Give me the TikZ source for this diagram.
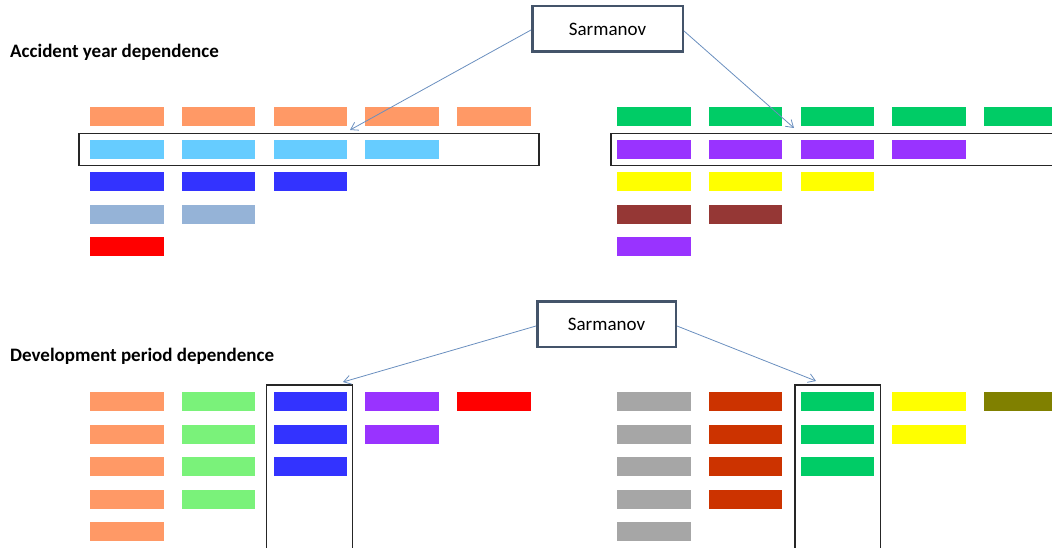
\documentclass[tikz,border=0pt]{standalone}
\usepackage{fontspec}
\setmainfont{Carlito}
\usetikzlibrary{arrows.meta}

\definecolor{peach}{HTML}{FF9966}
\definecolor{sky}{HTML}{66CCFF}
\definecolor{royal}{HTML}{3333FF}
\definecolor{steel}{HTML}{95B3D7}
\definecolor{pure}{HTML}{FF0000}
\definecolor{jade}{HTML}{00CC66}
\definecolor{violet}{HTML}{9933FF}
\definecolor{lemon}{HTML}{FFFF00}
\definecolor{brick}{HTML}{953735}
\definecolor{mint}{HTML}{7AF27A}
\definecolor{ash}{HTML}{A6A6A6}
\definecolor{rust}{HTML}{CC3300}
\definecolor{olive}{HTML}{808000}
\definecolor{link}{HTML}{6A8FBF}
\definecolor{slate}{HTML}{44546A}

\begin{document}
\begin{tikzpicture}[x=1pt,y=-1pt,
  bar/.style={anchor=north west,inner sep=0pt,minimum width=73.5pt,minimum height=19pt},
  sarm/.style={draw=slate,line width=2.5pt,fill=white,minimum height=45.5pt,font=\fontsize{19}{22}\selectfont},
  frame/.style={draw=black!85,line width=1.2pt},
  link/.style={draw=link,line width=0.8pt,-{Straight Barb[length=7pt,width=9pt]}}]
\useasboundingbox (0,0) rectangle (1052,548);
\clip (0,0) rectangle (1052,548);

% titles
\node[anchor=base west,inner sep=0pt,font=\fontsize{19}{22}\selectfont\bfseries] (tacc) at (10,58) {Accident year dependence};
\node[anchor=base west,inner sep=0pt,font=\fontsize{19}{22}\selectfont\bfseries] (tdev) at (10,361) {Development period dependence};

% accident year blocks
\foreach \r/\cl/\cr in {1/peach/jade,2/sky/violet,3/royal/lemon,4/steel/brick,5/pure/violet}{
  \pgfmathtruncatemacro{\n}{6-\r}
  \foreach \c in {1,...,\n}{
    \node[bar,fill=\cl] (al-\r-\c) at ({90+91.7*(\c-1)},{107.3+32.4*(\r-1)}) {};
    \node[bar,fill=\cr] (ar-\r-\c) at ({617+91.7*(\c-1)},{107.3+32.4*(\r-1)}) {};
  }
}

% development period blocks
\foreach \c/\cl/\cr in {1/peach/ash,2/mint/rust,3/royal/jade,4/violet/lemon,5/pure/olive}{
  \pgfmathtruncatemacro{\n}{6-\c}
  \foreach \r in {1,...,\n}{
    \node[bar,fill=\cl] (dl-\r-\c) at ({90+91.7*(\c-1)},{392+32.5*(\r-1)}) {};
    \node[bar,fill=\cr] (dr-\r-\c) at ({617+91.7*(\c-1)},{392+32.5*(\r-1)}) {};
  }
}

% frames
\draw[frame] (79,133.3) rectangle (539,165.3);
\draw[frame] (611,133.3) rectangle (1070,165.3);
\draw[frame] (266.7,385) rectangle (352.7,570);
\draw[frame] (795,385) rectangle (880.7,570);

% Sarmanov boxes
\node[sarm,minimum width=150.5pt] (sarA) at (607.5,29) {Sarmanov};
\node[sarm,minimum width=138.5pt] (sarD) at (606.5,324) {Sarmanov};

\coordinate (tAL) at (350,130);
\coordinate (tAR) at (794,128);
\coordinate (tDL) at (343,382);
\coordinate (tDR) at (816,381);

\draw[link] ([yshift=-1pt]sarA.west) -- (tAL);
\draw[link] ([yshift=-2pt]sarA.east) -- (tAR);
\draw[link] ([yshift=-2pt]sarD.west) -- (tDL);
\draw[link] ([yshift=-2pt]sarD.east) -- (tDR);
\end{tikzpicture}
\end{document}
